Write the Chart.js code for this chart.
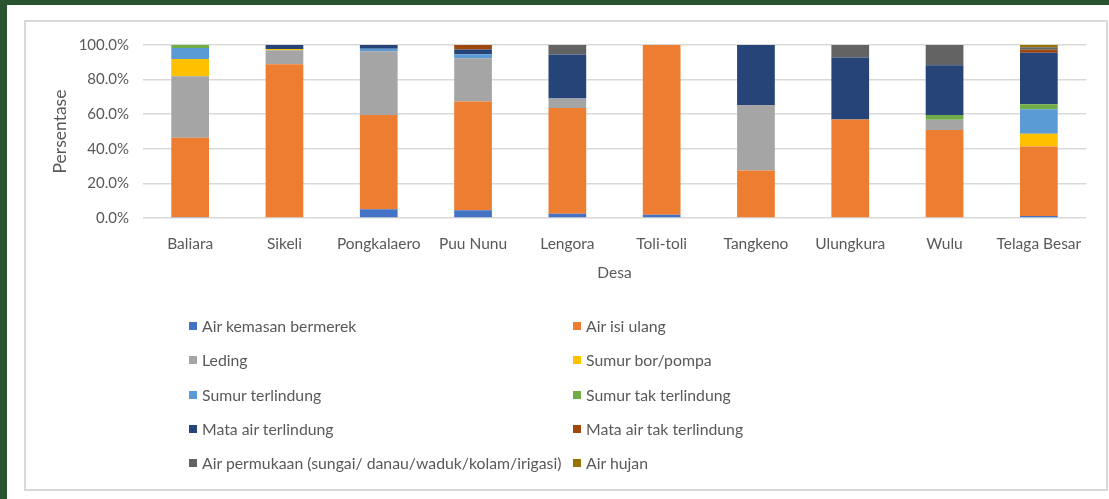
<!DOCTYPE html>
<html>
<head>
<meta charset="utf-8">
<script src="https://cdn.jsdelivr.net/npm/chart.js@4"></script>
<style>
  html, body { margin: 0; padding: 0; }
  body { width: 1109px; height: 499px; background: #ffffff; position: relative; overflow: hidden; font-family: Lato, "Open Sans", sans-serif; }
  .frame-top { position: absolute; left: 0; top: 0; width: 1109px; height: 5px; background: #2a5330; }
  .frame-left { position: absolute; left: 0; top: 0; width: 7px; height: 499px; background: #2a5330; }
  .box { position: absolute; left: 24px; top: 20px; width: 1080px; height: 467px; border: 2px solid #d9d9d9; }
  #chart { position: absolute; left: 26px; top: 22px; }
  .legend { position: absolute; left: 0; top: 0; }
  .legend-item { position: absolute; display: flex; align-items: center; white-space: nowrap; color: #595959; font-size: 15.8px; line-height: 18px; }
  .legend-item span.sw { display: inline-block; width: 8px; height: 8px; margin-right: 5px; }
</style>
</head>
<body>
<div class="frame-top"></div>
<div class="frame-left"></div>
<div class="box"></div>
<canvas id="chart" width="1078" height="465"></canvas>
<div class="legend" id="legend"></div>
<script>
// Villages (Desa) on the x axis
const desa = ['Baliara', 'Sikeli', 'Pongkalaero', 'Puu Nunu', 'Lengora', 'Toli-toli', 'Tangkeno', 'Ulungkura', 'Wulu', 'Telaga Besar'];

// Share of households (%) by drinking-water source, per village
const airKemasan        = [0.6, 0,    5.1,  4.5,  2.5,  1.9,  0,    0,    0,    1.1];
const airIsiUlang       = [45.8, 88.9, 54.5, 62.9, 61.1, 98.1, 27.4, 57.0, 50.9, 40.2];
const leding            = [35.5, 8.1,  36.8, 24.9, 5.5,  0,    37.9, 0,    5.9,  0];
const sumurBor          = [10.0, 0.7,  0,    0,    0,    0,    0,    0,    0,    7.4];
const sumurTerlindung   = [6.4,  0,    1.5,  2.3,  0,    0,    0,    0,    0,    14.1];
const sumurTakTerlindung= [1.7,  0,    0,    0,    0,    0,    0,    0,    2.8,  2.9];
const mataAirTerlindung = [0,    2.3,  2.1,  2.8,  25.4, 0,    34.7, 35.8, 28.7, 29.8];
const mataAirTak        = [0,    0,    0,    2.6,  0,    0,    0,    0,    0,    1.7];
const airPermukaan      = [0,    0,    0,    0,    5.5,  0,    0,    7.2,  11.7, 1.5];
const airHujan          = [0,    0,    0,    0,    0,    0,    0,    0,    0,    1.3];

// Percentage ticks on the y axis
const yTicks = [0, 20, 40, 60, 80, 100];

const seriesNames = [
  'Air kemasan bermerek', 'Air isi ulang', 'Leding', 'Sumur bor/pompa',
  'Sumur terlindung', 'Sumur tak terlindung', 'Mata air terlindung',
  'Mata air tak terlindung', 'Air permukaan (sungai/ danau/waduk/kolam/irigasi)', 'Air hujan'
];
const seriesValues = [airKemasan, airIsiUlang, leding, sumurBor, sumurTerlindung,
  sumurTakTerlindung, mataAirTerlindung, mataAirTak, airPermukaan, airHujan];
const seriesColors = ['#4472C4', '#ED7D31', '#A5A5A5', '#FFC000', '#5B9BD5',
  '#70AD47', '#264478', '#9E480E', '#636363', '#997300'];

const textColor = '#595959';
const gridColor = '#d9d9d9';
const fontFamily = 'Lato, "Open Sans", sans-serif';

const chart = new Chart(document.getElementById('chart'), {
  type: 'bar',
  data: {
    labels: desa,
    datasets: seriesNames.map((name, i) => ({
      label: name,
      data: seriesValues[i],
      backgroundColor: seriesColors[i],
      borderWidth: 0,
      barPercentage: 0.4,
      categoryPercentage: 1.0
    }))
  },
  options: {
    responsive: false,
    animation: false,
    devicePixelRatio: 1,
    layout: { padding: { left: 0, top: 19.5, right: 18, bottom: 199 } },
    plugins: {
      legend: { display: false },
      tooltip: { enabled: false }
    },
    scales: {
      x: {
        stacked: true,
        grid: { display: false },
        border: { display: false },
        ticks: { color: textColor, font: { family: fontFamily, size: 15.5 }, padding: 9, maxRotation: 0, autoSkip: false },
        title: { display: true, text: 'Desa', color: textColor, font: { family: fontFamily, size: 15.5 }, padding: { top: 0, bottom: 6 } },
        afterFit: (scale) => { scale.height = 70; }
      },
      y: {
        stacked: true,
        min: 0,
        max: 100,
        afterBuildTicks: (scale) => { scale.ticks = yTicks.map(v => ({ value: v })); },
        grid: { color: gridColor, lineWidth: 1.5, drawTicks: false },
        border: { display: false },
        ticks: {
          color: textColor,
          font: { family: fontFamily, size: 15 },
          padding: 14,
          callback: (v) => v.toFixed(1) + '%'
        },
        title: { display: true, text: 'Persentase', color: textColor, font: { family: fontFamily, size: 17.5 }, padding: { top: 24, bottom: 0 } },
        afterFit: (scale) => { scale.width = 117; }
      }
    }
  }
});

// Two-column legend built from the chart's datasets
const legendEl = document.getElementById('legend');
const colX = [189, 573];
const rowY = [326, 360, 395, 429, 463];
chart.data.datasets.forEach((ds, i) => {
  const item = document.createElement('div');
  item.className = 'legend-item';
  item.style.left = colX[i % 2] + 'px';
  item.style.top = (rowY[Math.floor(i / 2)] - 9) + 'px';
  const sw = document.createElement('span');
  sw.className = 'sw';
  sw.style.background = ds.backgroundColor;
  item.appendChild(sw);
  item.appendChild(document.createTextNode(ds.label));
  legendEl.appendChild(item);
});
</script>
</body>
</html>
